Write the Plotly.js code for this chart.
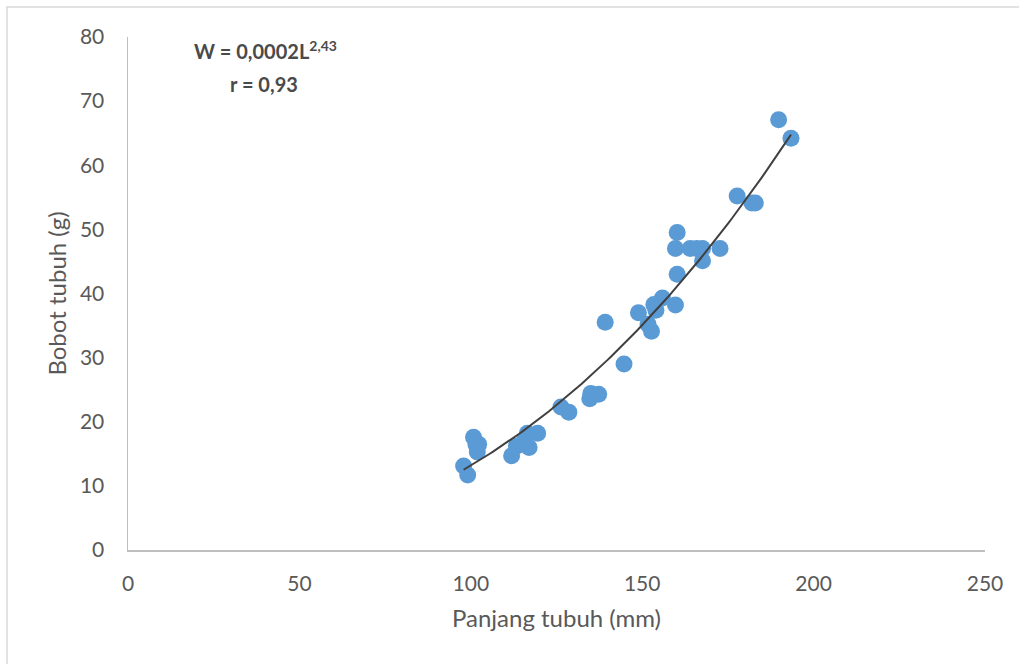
<!DOCTYPE html>
<html>
<head>
<meta charset="utf-8">
<script src="https://cdn.plot.ly/plotly-3.0.1.min.js"></script>
<style>html,body{margin:0;padding:0;background:#fff;}#chart{width:1019px;height:664px;}</style>
</head>
<body>
<div id="chart"></div>
<script>
// Panjang tubuh (mm)
const panjang = [97.9, 99.1, 100.8, 101.5, 102.3, 101.9, 111.9, 113.3, 115.7, 117.0, 116.5, 119.5,
  126.3, 128.6, 134.7, 135.0, 137.3, 139.2, 144.7, 148.9, 151.7, 152.7, 153.4, 154.0, 155.9,
  159.7, 159.7, 160.2, 160.2, 164.0, 165.9, 167.6, 167.6, 172.7, 177.7, 182.0, 183.0, 189.8, 193.4];
// Bobot tubuh (g)
const bobot = [13.1, 11.7, 17.6, 16.5, 16.5, 15.3, 14.7, 16.2, 17.2, 16.0, 18.2, 18.2,
  22.3, 21.5, 23.6, 24.4, 24.3, 35.5, 29.0, 37.0, 35.2, 34.1, 38.3, 37.4, 39.3,
  38.2, 47.0, 49.5, 43.0, 47.0, 47.0, 47.0, 45.1, 47.0, 55.2, 54.1, 54.1, 67.1, 64.2];
const xTicks = [0, 50, 100, 150, 200, 250];
const yTicks = [0, 10, 20, 30, 40, 50, 60, 70, 80];
const eqText = 'W = 0,0002L<sup>2,43</sup>';
const rText = 'r = 0,93';

// Power trendline (least squares on log-log, as spreadsheet power trendlines do)
const lx = panjang.map(Math.log), ly = bobot.map(Math.log);
const n = lx.length;
const mx = lx.reduce((a,b)=>a+b,0)/n, my = ly.reduce((a,b)=>a+b,0)/n;
let sxy=0, sxx=0;
for (let i=0;i<n;i++){ sxy+=(lx[i]-mx)*(ly[i]-my); sxx+=(lx[i]-mx)**2; }
const b = sxy/sxx, a = Math.exp(my - b*mx);
const xmin = Math.min(...panjang), xmax = Math.max(...panjang);
const tx = [], ty = [];
for (let i=0;i<=100;i++){ const x = xmin + (xmax-xmin)*i/100; tx.push(x); ty.push(a*Math.pow(x,b)); }

const font = 'Lato, "Open Sans", sans-serif';
const data = [
  {x: panjang, y: bobot, type:'scatter', mode:'markers',
   marker:{color:'#5B9BD5', size:17, line:{width:0}}, hoverinfo:'x+y'},
  {x: tx, y: ty, type:'scatter', mode:'lines', line:{color:'#404040', width:2}, hoverinfo:'skip'}
];
const layout = {
  width:1019, height:664,
  margin:{l:128, r:34, t:37, b:114},
  showlegend:false,
  paper_bgcolor:'#fff', plot_bgcolor:'#fff',
  font:{family:font, color:'#595959', size:21},
  xaxis:{range:[0,250], tickvals:xTicks, ticktext:xTicks.map(String), showgrid:false, zeroline:false,
    showline:true, linecolor:'#BFBFBF', linewidth:1.5, ticks:'outside', ticklen:14, tickcolor:'rgba(0,0,0,0)',
    tickfont:{size:21, color:'#595959', family:font},
    title:{text:'Panjang tubuh (mm)', font:{size:24, color:'#595959', family:font}, standoff:16}},
  yaxis:{range:[0,80], tickvals:yTicks, ticktext:yTicks.map(String), showgrid:false, zeroline:false,
    showline:true, linecolor:'#BFBFBF', linewidth:1.5, ticks:'outside', ticklen:18, tickcolor:'rgba(0,0,0,0)',
    tickfont:{size:21, color:'#595959', family:font},
    title:{text:'Bobot tubuh (g)', font:{size:24, color:'#595959', family:font}, standoff:6}},
  annotations:[
    {xref:'paper', yref:'paper', x:(265-128)/857, y:(549-50)/512, text:eqText, showarrow:false,
     font:{size:20, color:'#4a4a4a', family:font, weight:'bold'}, xanchor:'center', yanchor:'middle'},
    {xref:'paper', yref:'paper', x:(264-128)/857, y:(549-84)/512, text:rText, showarrow:false,
     font:{size:20, color:'#4a4a4a', family:font, weight:'bold'}, xanchor:'center', yanchor:'middle'}
  ],
  shapes:[
    {type:'rect', xref:'paper', yref:'paper', x0:(7-128)/857, x1:(1030-128)/857, y0:(549-680)/512, y1:(549-7)/512,
     line:{color:'#D9D9D9', width:1.5}, fillcolor:'rgba(0,0,0,0)', layer:'below'}
  ]
};
Plotly.newPlot('chart', data, layout, {displayModeBar:false, staticPlot:true});
</script>
</body>
</html>
